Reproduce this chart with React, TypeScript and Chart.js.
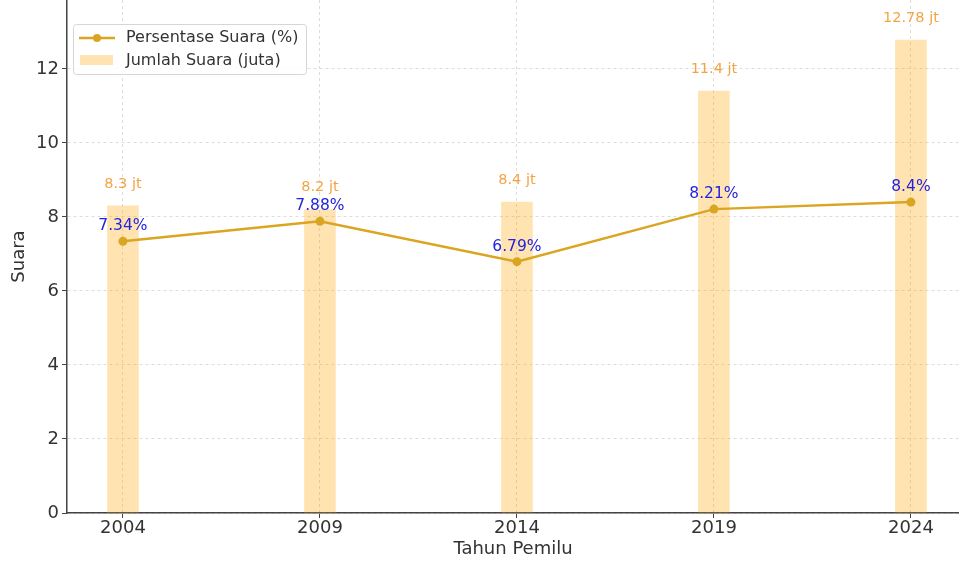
import React, { useEffect, useRef } from "react";
import { Chart, registerables } from "chart.js";

Chart.register(...registerables);

const years = [2004, 2009, 2014, 2019, 2024];
const percentValues = [7.34, 7.88, 6.79, 8.21, 8.4];
const voteMillions = [8.3, 8.2, 8.4, 11.4, 12.78];
const percentLabels = ["7.34%", "7.88%", "6.79%", "8.21%", "8.4%"];
const voteLabels = ["8.3 jt", "8.2 jt", "8.4 jt", "11.4 jt", "12.78 jt"];
const yTicks = [0, 2, 4, 6, 8, 10, 12];
const seriesNames = ["Persentase Suara (%)", "Jumlah Suara (juta)"];
const xTitle = "Tahun Pemilu";
const yTitle = "Suara";

const LINE_COLOR = "#DAA520";
const BAR_COLOR = "rgba(255,165,0,0.3)";
const BAR_LABEL_COLOR = "#F2A445";
const PCT_LABEL_COLOR = "#2323E0";
const AXIS_COLOR = "#444444";
const TEXT_COLOR = "#333333";
const FONT = "DejaVu Sans";

const valueLabelPlugin = {
  id: "valueLabels",
  afterDatasetsDraw(chart: any) {
    const ctx = chart.ctx;
    const lineMeta = chart.getDatasetMeta(0);
    const barMeta = chart.getDatasetMeta(1);
    ctx.save();
    ctx.textAlign = "center";
    ctx.textBaseline = "middle";
    ctx.font = `14.5px "${FONT}"`;
    ctx.fillStyle = BAR_LABEL_COLOR;
    barMeta.data.forEach((el: any, i: number) => {
      ctx.fillText(voteLabels[i], el.x, el.y - 22);
    });
    ctx.font = `15.5px "${FONT}"`;
    ctx.fillStyle = PCT_LABEL_COLOR;
    lineMeta.data.forEach((el: any, i: number) => {
      ctx.fillText(percentLabels[i], el.x, el.y - 15);
    });
    ctx.restore();
  },
};

const legendPlugin = {
  id: "insideLegend",
  afterDraw(chart: any) {
    const ctx = chart.ctx;
    const x = 73.5;
    const y = 24.5;
    const w = 233;
    const h = 50;
    const r = 3;
    ctx.save();
    ctx.beginPath();
    ctx.moveTo(x + r, y);
    ctx.lineTo(x + w - r, y);
    ctx.quadraticCurveTo(x + w, y, x + w, y + r);
    ctx.lineTo(x + w, y + h - r);
    ctx.quadraticCurveTo(x + w, y + h, x + w - r, y + h);
    ctx.lineTo(x + r, y + h);
    ctx.quadraticCurveTo(x, y + h, x, y + h - r);
    ctx.lineTo(x, y + r);
    ctx.quadraticCurveTo(x, y, x + r, y);
    ctx.closePath();
    ctx.fillStyle = "rgba(255,255,255,0.85)";
    ctx.fill();
    ctx.strokeStyle = "#d6d6d6";
    ctx.lineWidth = 1;
    ctx.stroke();

    // line marker
    ctx.strokeStyle = LINE_COLOR;
    ctx.lineWidth = 2.5;
    ctx.beginPath();
    ctx.moveTo(79, 38);
    ctx.lineTo(115, 38);
    ctx.stroke();
    ctx.fillStyle = LINE_COLOR;
    ctx.beginPath();
    ctx.arc(97, 38, 4, 0, Math.PI * 2);
    ctx.fill();

    // bar patch
    ctx.fillStyle = BAR_COLOR;
    ctx.fillRect(80, 55, 33, 10);

    ctx.fillStyle = TEXT_COLOR;
    ctx.font = `16px "${FONT}"`;
    ctx.textAlign = "left";
    ctx.textBaseline = "middle";
    ctx.fillText(seriesNames[0], 126, 38);
    ctx.fillText(seriesNames[1], 126, 61);
    ctx.restore();
  },
};

export default function App() {
  const canvasRef = useRef<HTMLCanvasElement | null>(null);

  useEffect(() => {
    document.body.style.margin = "0";
    const canvas = canvasRef.current;
    if (!canvas) return;
    Chart.defaults.font.family = FONT;
    Chart.defaults.color = TEXT_COLOR;

    const chart = new Chart(canvas, {
      type: "line",
      data: {
        datasets: [
          {
            type: "line",
            label: seriesNames[0],
            data: years.map((yr, i) => ({ x: yr, y: percentValues[i] })),
            borderColor: LINE_COLOR,
            backgroundColor: LINE_COLOR,
            borderWidth: 2.5,
            pointRadius: 4.5,
            pointBackgroundColor: LINE_COLOR,
            pointBorderWidth: 0,
            tension: 0,
            order: 0,
          } as any,
          {
            type: "bar",
            label: seriesNames[1],
            data: years.map((yr, i) => ({ x: yr, y: voteMillions[i] })),
            backgroundColor: BAR_COLOR,
            borderWidth: 0,
            barThickness: 31,
            order: 1,
          } as any,
        ],
      },
      options: {
        animation: false,
        responsive: false,
        maintainAspectRatio: false,
        devicePixelRatio: 1,
        layout: { padding: 0, autoPadding: false },
        plugins: {
          legend: { display: false },
          tooltip: { enabled: false },
          title: { display: false },
        },
        scales: {
          x: {
            type: "linear",
            offset: false,
            min: 2002.58,
            max: 2025.22,
            afterBuildTicks: (scale: any) => {
              scale.ticks = years.map((v) => ({ value: v }));
            },
            afterFit: (scale: any) => {
              scale.height = 48;
              scale.paddingLeft = 0;
              scale.paddingRight = 0;
            },
            ticks: {
              font: { size: 18 },
              color: TEXT_COLOR,
              padding: 0,
              maxRotation: 0,
              callback: (v: any) => String(v),
            },
            grid: {
              offset: false,
              color: "#dddddd",
              lineWidth: 1,
              drawTicks: true,
              tickLength: 5,
              tickColor: AXIS_COLOR,
              tickWidth: 1,
            },
            border: { display: true, color: AXIS_COLOR, width: 1.5, dash: [3, 3] },
            title: {
              display: true,
              text: xTitle,
              font: { size: 18 },
              color: TEXT_COLOR,
              padding: { top: 0, bottom: 1 },
            },
          },
          y: {
            type: "linear",
            min: 0,
            max: 13.86,
            afterBuildTicks: (scale: any) => {
              scale.ticks = yTicks.map((v) => ({ value: v }));
            },
            afterFit: (scale: any) => {
              scale.width = 67;
              scale.paddingTop = 0;
              scale.paddingBottom = 0;
            },
            ticks: {
              font: { size: 18 },
              color: TEXT_COLOR,
              padding: 3,
              callback: (v: any) => String(v),
            },
            grid: {
              color: "#dddddd",
              lineWidth: 1,
              drawTicks: true,
              tickLength: 5,
              tickColor: AXIS_COLOR,
              tickWidth: 1,
            },
            border: { display: true, color: AXIS_COLOR, width: 1.5, dash: [3, 3] },
            title: {
              display: true,
              text: yTitle,
              font: { size: 18 },
              color: TEXT_COLOR,
              padding: { top: 9, bottom: 0 },
            },
          },
        },
      },
      plugins: [valueLabelPlugin, legendPlugin],
    });

    return () => {
      chart.destroy();
    };
  }, []);

  return (
    <div style={{ position: "absolute", left: 0, top: 0, width: 959, height: 561 }}>
      <canvas ref={canvasRef} width={959} height={561} style={{ width: 959, height: 561, display: "block" }} />
    </div>
  );
}
